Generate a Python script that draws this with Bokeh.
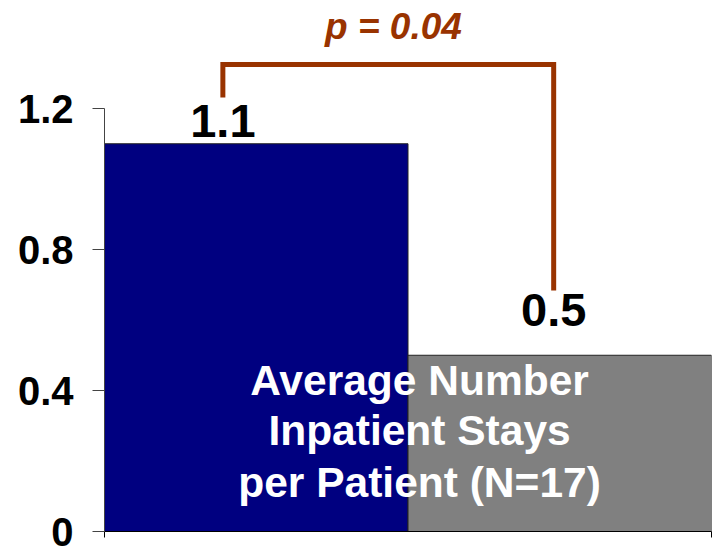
from bokeh.plotting import figure
from bokeh.models import Range1d, FixedTicker
from bokeh.embed import file_html
from bokeh.resources import INLINE
from bokeh.core.properties import value

# ---- data ----
groups = ["Before", "After"]
values = [1.1, 0.5]
bar_colors = ["#000080", "#808080"]
value_labels = ["1.1", "0.5"]
label_x = [0.39, 1.48]          # where value labels / bracket legs sit (category units)
label_y = [1.165, 0.627]        # label centres
y_ticks = [0, 0.4, 0.8, 1.2]
y_tick_labels = ["0", "0.4", "0.8", "1.2"]
p_text = "p = 0.04"
p_pos = (0.952, 1.432)
bracket_top = 1.325
bracket_feet = [1.231, 0.684]
caption_lines = ["Average Number", "Inpatient Stays", "per Patient (N=17)"]
caption_y = [0.427, 0.2865, 0.139]
caption_x = 1.038

FONT = "Liberation Sans"
BROWN = "#993300"

# layout: frame from y=0 to 531, 1.2 at y=108
frame_h = 531
y_end = 1.2 * frame_h / (531 - 108)

p = figure(width=713, height=546, output_backend="svg", toolbar_location=None,
           x_range=Range1d(0, len(values)), y_range=Range1d(0, y_end),
           min_border_left=104, min_border_right=2, min_border_top=0, min_border_bottom=15)
p.outline_line_color = None
p.xgrid.visible = False
p.ygrid.visible = False
p.background_fill_color = "white"

# bars
lefts = list(range(len(values)))
rights = [i + 1 for i in lefts]
p.quad(left=lefts, right=rights, bottom=0, top=values, fill_color=bar_colors,
       line_color="#222222", line_width=1)

# value labels
p.text(x=label_x, y=label_y, text=value_labels,
       text_font=value(FONT), text_font_style="bold", text_font_size="47px",
       text_align="center", text_baseline="middle", text_color="black")

# significance bracket
bx = [label_x[0], label_x[0], label_x[1], label_x[1]]
by = [bracket_feet[0], bracket_top, bracket_top, bracket_feet[1]]
p.line(x=bx, y=by, line_color=BROWN, line_width=5, line_join="miter")

p.text(x=[p_pos[0]], y=[p_pos[1]], text=[p_text], text_font=value(FONT),
       text_font_style="bold italic", text_font_size="37px", text_color=BROWN,
       text_align="center", text_baseline="middle")

# caption overlay
p.text(x=[caption_x] * len(caption_lines), y=caption_y, text=caption_lines,
       text_font=value(FONT), text_font_style="bold", text_font_size="42.5px",
       text_color="white", text_align="center", text_baseline="middle")

# axes
p.xaxis.ticker = FixedTicker(ticks=[0, len(values)])
p.xaxis.major_label_overrides = {0: "", len(values): ""}
p.xaxis.major_tick_out = 6
p.xaxis.major_tick_in = 0
p.xaxis.minor_tick_line_color = None
p.xaxis.major_label_standoff = 0
p.xaxis.axis_line_color = "black"
p.xaxis.major_tick_line_color = "black"

p.yaxis.ticker = FixedTicker(ticks=y_ticks)
p.yaxis.bounds = (0, 1.2)
p.yaxis.major_label_overrides = {t: l for t, l in zip(y_ticks, y_tick_labels)}
p.yaxis.major_tick_out = 12
p.yaxis.major_tick_in = 0
p.yaxis.minor_tick_line_color = None
p.yaxis.axis_line_color = "#444444"
p.yaxis.major_tick_line_color = "#444444"
p.yaxis.major_label_text_font = FONT
p.yaxis.major_label_text_font_style = "bold"
p.yaxis.major_label_text_font_size = "40px"
p.yaxis.major_label_text_color = "black"
p.yaxis.major_label_standoff = 19

open("out.html", "w").write(file_html(p, INLINE))
